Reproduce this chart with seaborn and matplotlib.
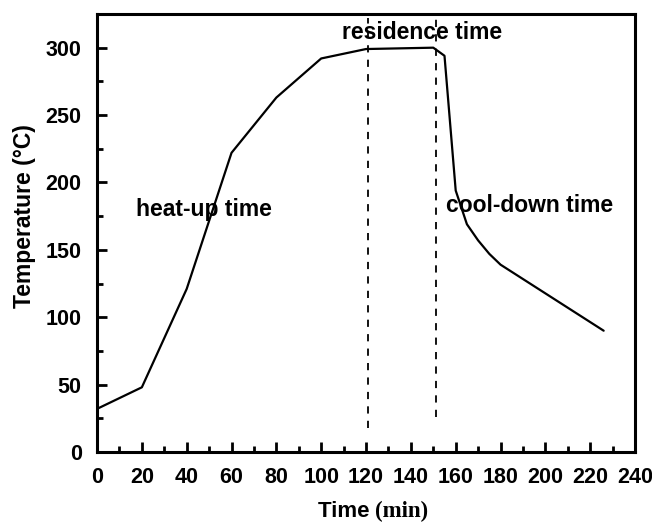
import matplotlib
matplotlib.use("Agg")
import matplotlib.pyplot as plt
import seaborn as sns
import pandas as pd
from matplotlib.ticker import MultipleLocator

time_min = [0, 20, 40, 60, 80, 100, 120, 150, 155, 160, 165, 170, 175, 180, 226]
temp_c = [32, 48, 121, 222, 263, 292, 299, 300, 294, 194, 169, 157, 147, 139, 90]

residence_start = 121
residence_end = 151

xticks = list(range(0, 241, 20))
yticks = list(range(0, 301, 50))

sns.set_style("ticks")
plt.rcParams['font.family'] = ['Liberation Sans', 'DejaVu Sans']
plt.rcParams['font.weight'] = 'bold'
plt.rcParams['text.color'] = 'black'
plt.rcParams['axes.labelcolor'] = 'black'
plt.rcParams['xtick.color'] = 'black'
plt.rcParams['ytick.color'] = 'black'

df = pd.DataFrame({"Time": time_min, "Temperature": temp_c})

fig = plt.figure(figsize=(6.52, 5.22), dpi=100)
ax = fig.add_axes([0.1488, 0.1341, 0.974 - 0.1488, 0.9732 - 0.1341])

sns.lineplot(data=df, x="Time", y="Temperature", ax=ax, color="black", linewidth=1.6, sort=False)

ax.plot([residence_start, residence_start], [18, 322], color="black", linestyle=(0, (4, 4)), linewidth=1.3)
ax.plot([residence_end, residence_end], [26, 322], color="black", linestyle=(0, (4, 4)), linewidth=1.3)

ax.set_xlim(0, 240)
ax.set_ylim(0, 325)
ax.set_xticks(xticks)
ax.set_yticks(yticks)
ax.xaxis.set_minor_locator(MultipleLocator(10))
ax.yaxis.set_minor_locator(MultipleLocator(25))
ax.tick_params(which='major', direction='in', length=7, width=2, labelsize=15.5, pad=11)
ax.tick_params(which='minor', direction='in', length=4, width=2)
for lab in ax.get_xticklabels() + ax.get_yticklabels():
    lab.set_fontweight('bold')
for sp in ax.spines.values():
    sp.set_visible(True)
    sp.set_linewidth(2.2)
    sp.set_color("black")

ax.set_ylabel("Temperature (°C)", fontsize=16.5, fontweight='bold')
ax.yaxis.set_label_coords(-0.113, 0.539)
ax.set_xlabel("")
t1 = fig.text(0.487, 0.0, "Time ", fontsize=16, fontweight='bold', ha='left', va='bottom')
ax.annotate("(min)", xy=(1, 0), xycoords=t1, va='bottom', ha='left', fontsize=16.5,
            fontweight='bold', family=['Liberation Serif', 'DejaVu Serif'])

ax.text(17.5, 180, "heat-up time", fontsize=16.5, fontweight='bold', ha='left', va='center')
ax.text(145, 311, "residence time", fontsize=16.5, fontweight='bold', ha='center', va='center')
ax.text(155.5, 183, "cool-down time", fontsize=16.5, fontweight='bold', ha='left', va='center')

fig.savefig("out.png", dpi=100)
